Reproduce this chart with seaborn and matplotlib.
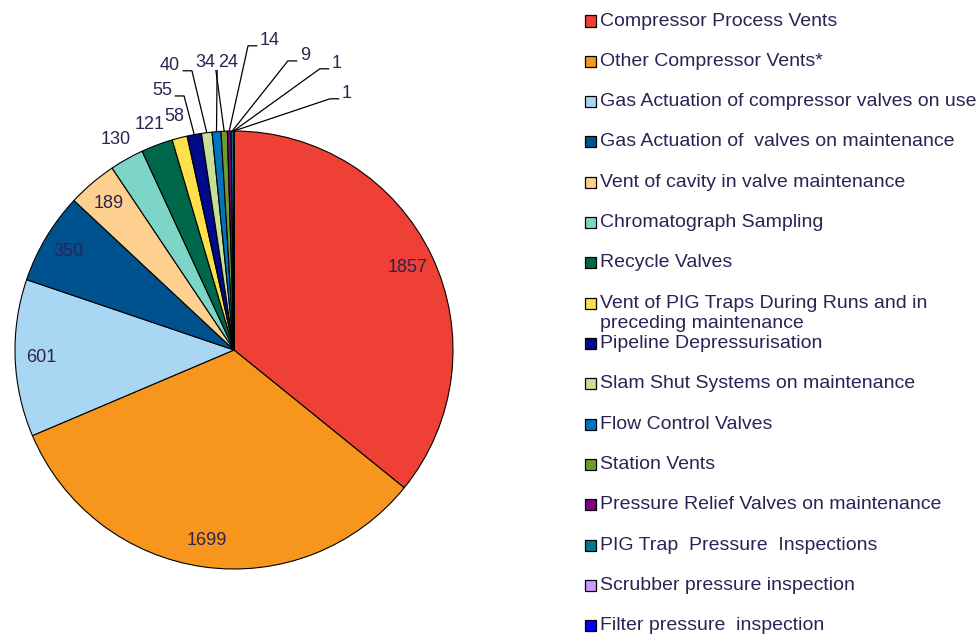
import numpy as np
import seaborn as sns
import matplotlib
matplotlib.use("Agg")
from matplotlib import pyplot as plt
from matplotlib.patches import Rectangle

# Dados do gráfico
categorias = [
    "Compressor Process Vents",
    "Other Compressor Vents*",
    "Gas Actuation of compressor valves on use",
    "Gas Actuation of  valves on maintenance",
    "Vent of cavity in valve maintenance",
    "Chromatograph Sampling",
    "Recycle Valves",
    "Vent of PIG Traps During Runs and in\npreceding maintenance",
    "Pipeline Depressurisation",
    "Slam Shut Systems on maintenance",
    "Flow Control Valves",
    "Station Vents",
    "Pressure Relief Valves on maintenance",
    "PIG Trap  Pressure  Inspections",
    "Scrubber pressure inspection",
    "Filter pressure  inspection",
]
valores = [1857, 1699, 601, 350, 189, 130, 121, 58, 55, 40, 34, 24, 14, 9, 1, 1]
cores = [
    "#ee4035", "#f7961c", "#a9d6f2", "#00528f", "#fdd08f", "#7dd5c8",
    "#00684a", "#ffe04a", "#000a8a", "#c6e09c", "#0074bd", "#6e9c2d",
    "#800080", "#007a8a", "#cc99ff", "#0000ff",
]

# Layout dos rótulos com linha de chamada (x, y da linha de base, alinhamento)
chamadas = {
    8: (-0.283, 1.164, "right"),
    9: (-0.247, 1.279, "right"),
    10: (-0.087, 1.292, "right"),
    11: (-0.073, 1.292, "left"),
    12: (0.119, 1.393, "left"),
    13: (0.301, 1.324, "left"),
    14: (0.447, 1.288, "left"),
    15: (0.493, 1.151, "left"),
}

sns.set_theme(style="white")
plt.rcParams["font.family"] = ["Liberation Sans", "DejaVu Sans"]
corTexto = "#2e2255"

fig = plt.figure(figsize=(9.8, 6.35), dpi=100)
ax = fig.add_axes([0, 0, 468 / 980, 1])

wedges, _ = ax.pie(valores, colors=cores, startangle=90, counterclock=False,
                   radius=1, wedgeprops=dict(edgecolor="black", linewidth=0.8))
ax.set_xlim(-234 / 219, 234 / 219)
ax.set_ylim(-285 / 219, 350 / 219)
ax.axis("off")

for i, w in enumerate(wedges):
    ang = np.deg2rad((w.theta1 + w.theta2) / 2)
    ex, ey = np.cos(ang), np.sin(ang)
    if i in chamadas:
        px, py, ha = chamadas[i]
        ax.text(px, py, str(valores[i]), ha=ha, va="baseline", fontsize=13, color=corTexto)
        lado = 1 if ha == "right" else -1
        if i in (10, 11):
            xs = [px + lado * 0.01, ex]
            ys = [py - 0.013, ey]
        else:
            xs = [px + lado * 0.012, px + lado * 0.055, ex]
            ys = [py - 0.004, py - 0.004, ey]
        ax.plot(xs, ys, color="black", linewidth=0.9, solid_capstyle="butt")
    else:
        r = 0.88 if valores[i] > 150 else 1.1
        ax.text(r * ex, r * ey, str(valores[i]), ha="center", va="center",
                fontsize=13, color=corTexto)

# Legenda desenhada à mão (o Excel sobrepõe a linha dupla)
topo, passo = 21, 40.33
for i, (nome, cor) in enumerate(zip(categorias, cores)):
    yc = 1 - (topo + i * passo) / 635
    fig.patches.append(Rectangle((585 / 980, yc - 5.5 / 635), 11 / 980, 11 / 635,
                                 transform=fig.transFigure, facecolor=cor,
                                 edgecolor="black", linewidth=0.9))
    linhas = nome.split("\n")
    for j, linha in enumerate(linhas):
        fig.text(600 / 980, yc - j * 20 / 635, linha, ha="left", va="center",
                 fontsize=14, color=corTexto)

fig.savefig("out.png", dpi=100)
